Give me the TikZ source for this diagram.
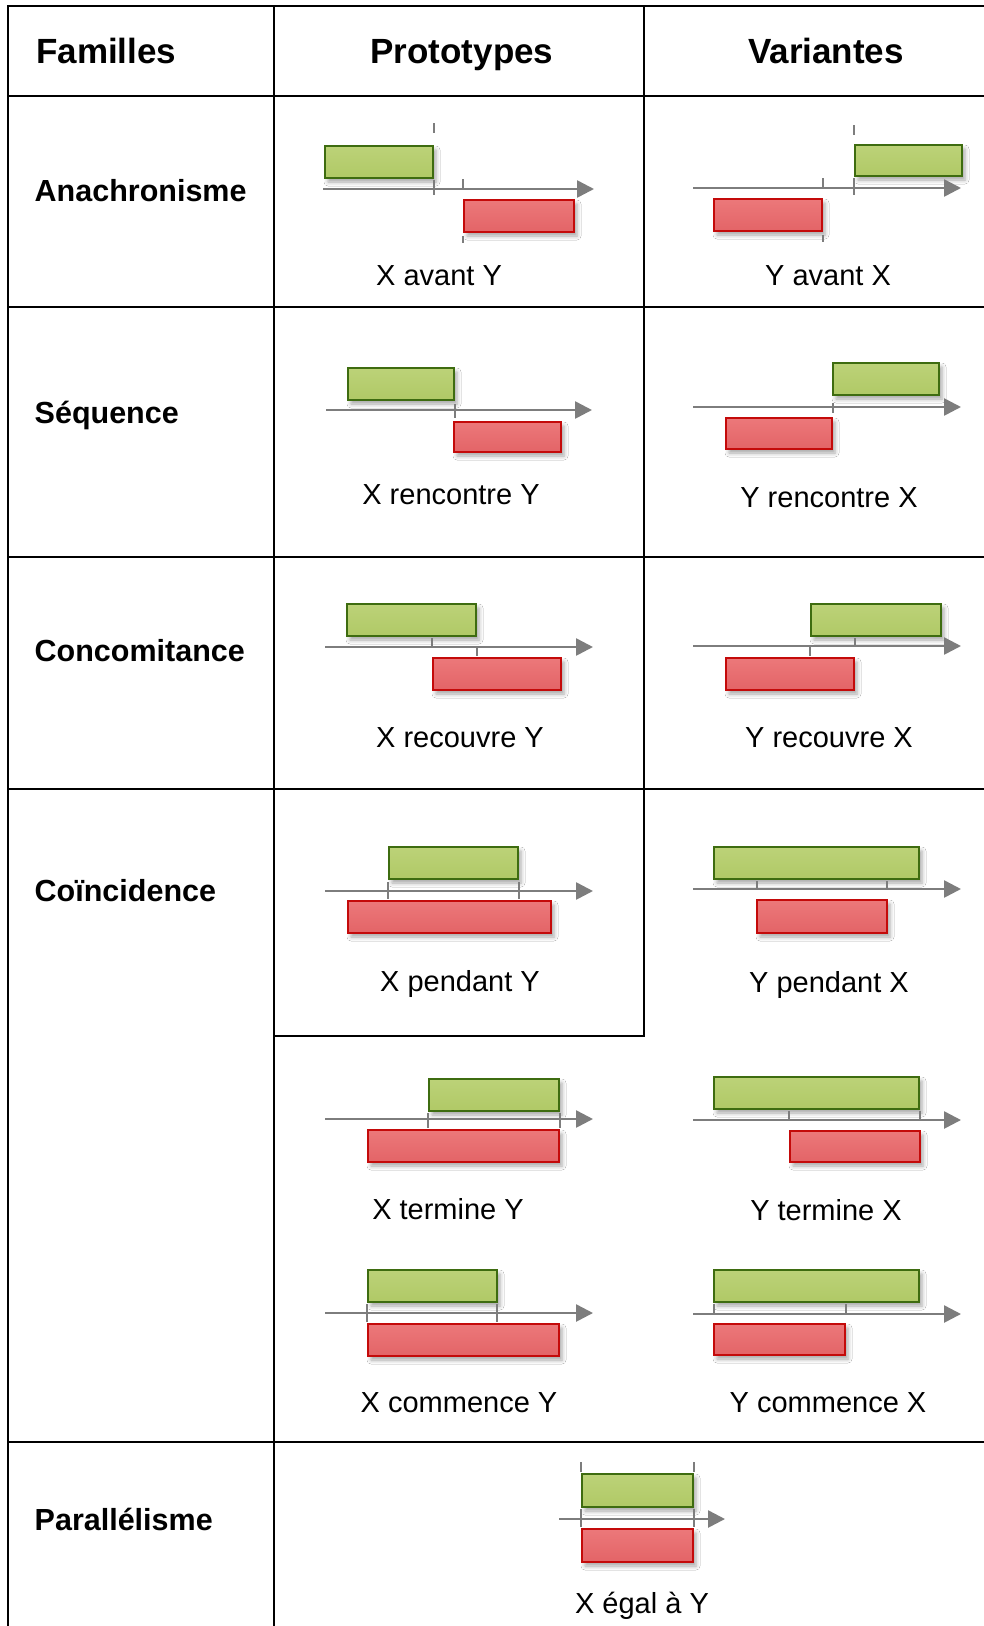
\documentclass[tikz,border=0pt]{standalone}
\usepackage{fontspec}
\setmainfont{Liberation Sans}
\usetikzlibrary{arrows.meta,shadows.blur}
\definecolor{gfill}{RGB}{176,201,102}
\definecolor{gtop}{RGB}{188,210,120}
\definecolor{gline}{RGB}{62,108,16}
\definecolor{rfill}{RGB}{227,100,103}
\definecolor{rtop}{RGB}{236,120,122}
\definecolor{rline}{RGB}{196,10,10}
\definecolor{axisgray}{RGB}{125,125,125}
\tikzset{
  barbox/.style={inner sep=0pt, outer sep=0pt, line width=2pt,
    blur shadow={shadow xshift=3pt, shadow yshift=-4pt, shadow blur radius=4pt, shadow opacity=35}},
  gbar/.style={barbox, draw=gline, top color=gtop, bottom color=gfill},
  rbar/.style={barbox, draw=rline, top color=rtop, bottom color=rfill},
  timeaxis/.style={draw=axisgray, line width=2.6pt, -{Triangle[length=17pt,width=17pt]}},
  tickmark/.style={draw=axisgray, line width=2.5pt},
  tableline/.style={draw=black, line width=2pt, line cap=rect},
  headtxt/.style={font=\fontsize{35}{40}\selectfont\bfseries, inner sep=0pt, anchor=base},
  famtxt/.style={font=\fontsize{30.5}{34}\selectfont\bfseries, inner sep=0pt, anchor=base west},
  capt/.style={font=\fontsize{29}{33}\selectfont, inner sep=0pt, anchor=base},
}
\newcommand\mkbar[6]{\node[#1, minimum width={(#4)-(#3)-2}, minimum height={(#6)-(#5)-2}] (#2) at ({((#3)+(#4))/2},{((#5)+(#6))/2}) {};}
\newcommand\mkaxis[4]{\coordinate (#1-s) at (#2,#4); \coordinate (#1-e) at (#3,#4); \draw[timeaxis] (#1-s) -- (#1-e);}
\newcommand\mktick[3]{\draw[tickmark] (#1,#2) -- (#1,#3);}
\begin{document}
\begin{tikzpicture}[x=1pt,y=-1pt]
\fill[white] (0,0) rectangle (984,1626);
\useasboundingbox (0,0) rectangle (984,1626);

% table grid
\draw[tableline] (7.5,6) -- (984,6);
\draw[tableline] (7.5,95.7) -- (984,95.7);
\draw[tableline] (7.5,307) -- (984,307);
\draw[tableline] (7.5,557) -- (984,557);
\draw[tableline] (7.5,789) -- (984,789);
\draw[tableline] (274,1036) -- (643.5,1036);
\draw[tableline] (7.5,1441.5) -- (984,1441.5);
\draw[tableline] (7.5,6) -- (7.5,1630);
\draw[tableline] (274,6) -- (274,1630);
\draw[tableline] (643.5,6) -- (643.5,1036);

% headers
\node[headtxt, anchor=base west] (hfam) at (36,63) {Familles};
\node[headtxt] (hproto) at (462,63) {Prototypes};
\node[headtxt] (hvar) at (826,63) {Variantes};

% family labels
\node[famtxt] (fana) at (34.5,201.7) {Anachronisme};
\node[famtxt] (fseq) at (34.5,423.5) {Séquence};
\node[famtxt] (fcon) at (34.5,661) {Concomitance};
\node[famtxt] (fcoi) at (34.5,901.5) {Coïncidence};
\node[famtxt] (fpar) at (34.5,1530) {Parallélisme};

% bars
\mkbar{gbar}{g1}{324}{434}{145}{179}
\mkbar{rbar}{r1}{463}{575}{199}{233}
\mkbar{gbar}{g2}{854}{963}{144}{177}
\mkbar{rbar}{r2}{713}{823}{198}{232}
\mkbar{gbar}{g3}{347}{455}{367}{401}
\mkbar{rbar}{r3}{453}{562}{421}{453}
\mkbar{gbar}{g4}{832}{940}{362}{396}
\mkbar{rbar}{r4}{725}{833}{417}{450}
\mkbar{gbar}{g5}{346}{477}{603}{637}
\mkbar{rbar}{r5}{432}{562}{657}{691}
\mkbar{gbar}{g6}{810}{942}{603}{637}
\mkbar{rbar}{r6}{725}{855}{657}{691}
\mkbar{gbar}{g7}{388}{519}{846}{880}
\mkbar{rbar}{r7}{347}{552}{900}{934}
\mkbar{gbar}{g8}{713}{920}{846}{880}
\mkbar{rbar}{r8}{756}{888}{899}{934}
\mkbar{gbar}{g9}{428}{560}{1078}{1112}
\mkbar{rbar}{r9}{367}{560}{1129}{1163}
\mkbar{gbar}{g10}{367}{498}{1269}{1303}
\mkbar{rbar}{r10}{367}{560}{1323}{1357}
\mkbar{gbar}{g11}{713}{920}{1076}{1110}
\mkbar{rbar}{r11}{789}{921}{1130}{1163}
\mkbar{gbar}{g12}{713}{920}{1269}{1303}
\mkbar{rbar}{r12}{713}{846}{1323}{1356}
\mkbar{gbar}{g13}{581}{694}{1473}{1508}
\mkbar{rbar}{r13}{581}{694}{1528}{1563}

% axes
\mkaxis{a1}{323}{594}{189}
\mkaxis{a2}{693}{961}{188}
\mkaxis{a3}{326}{592}{410}
\mkaxis{a4}{693}{961}{407}
\mkaxis{a5}{325}{593}{647}
\mkaxis{a6}{693}{961}{646}
\mkaxis{a7}{325}{593}{891}
\mkaxis{a8}{693}{961}{889}
\mkaxis{a9}{325}{593}{1119}
\mkaxis{a10}{325}{593}{1313}
\mkaxis{a11}{693}{961}{1120}
\mkaxis{a12}{693}{961}{1314}
\mkaxis{a13}{559}{725}{1519}

% ticks
\mktick{434}{123}{133} \mktick{434}{180}{195} \mktick{463}{179}{189} \mktick{463}{236}{243}
\mktick{823}{178}{188} \mktick{823}{235}{242} \mktick{854}{125}{135} \mktick{854}{178}{195}
\mktick{455}{404}{418}
\mktick{833}{403}{413}
\mktick{432}{638}{647} \mktick{477}{647}{656}
\mktick{855}{638}{646} \mktick{810}{646}{656}
\mktick{388}{882}{899} \mktick{519}{882}{899}
\mktick{757}{881}{889} \mktick{887}{881}{889}
\mktick{428}{1113}{1128} \mktick{560}{1113}{1128}
\mktick{367}{1304}{1322} \mktick{497}{1304}{1322}
\mktick{789}{1111}{1120} \mktick{920}{1111}{1120}
\mktick{714}{1304}{1314} \mktick{846}{1304}{1314}
\mktick{581}{1462}{1472} \mktick{581}{1509}{1527} \mktick{694}{1462}{1472} \mktick{694}{1509}{1527}

% captions
\node[capt] (c1) at (439,285) {X avant Y};
\node[capt] (c2) at (828,285) {Y avant X};
\node[capt] (c3) at (451,504) {X rencontre Y};
\node[capt] (c4) at (829,507) {Y rencontre X};
\node[capt] (c5) at (460,747) {X recouvre Y};
\node[capt] (c6) at (829,747) {Y recouvre X};
\node[capt] (c7) at (460,991) {X pendant Y};
\node[capt] (c8) at (829,992) {Y pendant X};
\node[capt] (c9) at (448,1219) {X termine Y};
\node[capt] (c10) at (459,1412) {X commence Y};
\node[capt] (c11) at (826,1220) {Y termine X};
\node[capt] (c12) at (828,1412) {Y commence X};
\node[capt] (c13) at (642,1613) {X égal à Y};
\end{tikzpicture}
\end{document}
